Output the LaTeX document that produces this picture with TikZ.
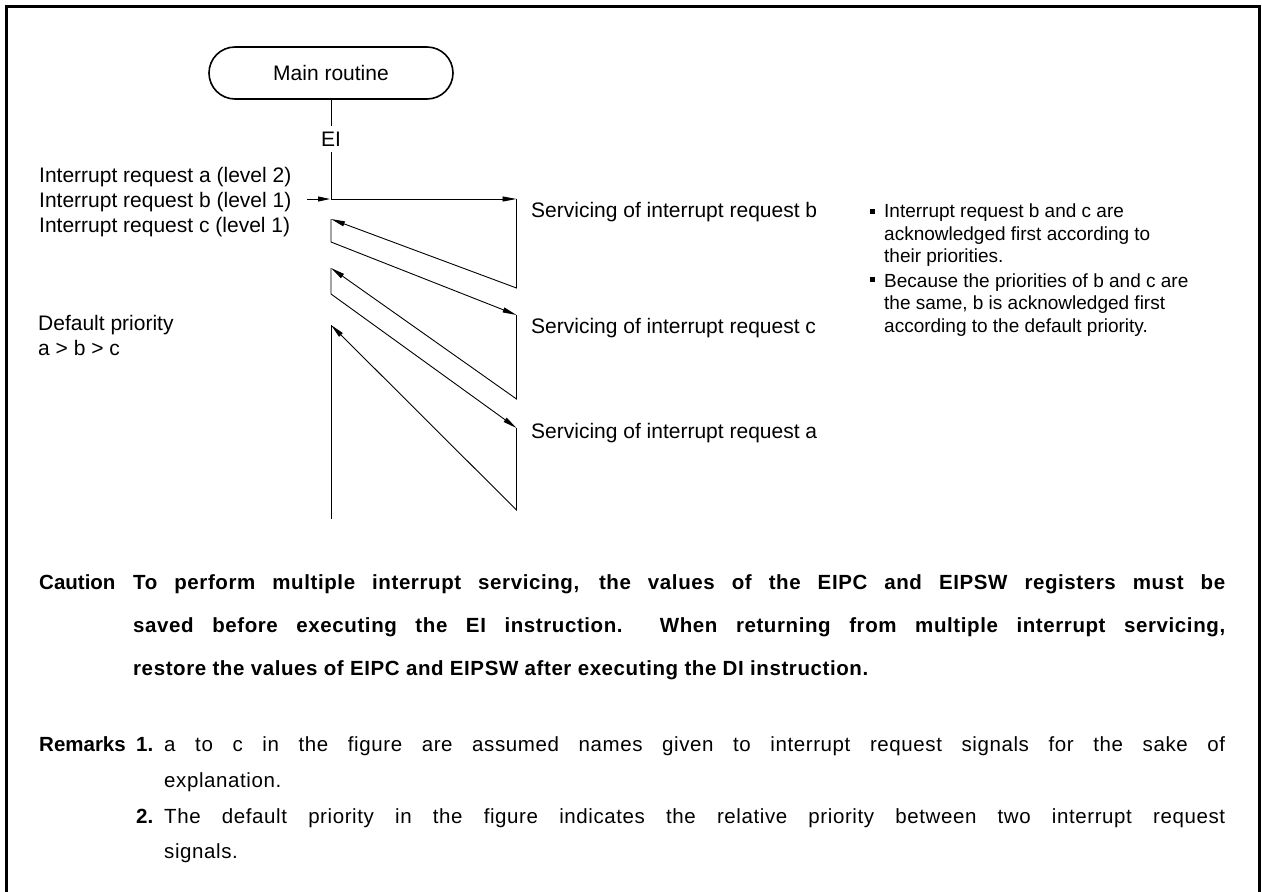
\documentclass[tikz,border=0pt]{standalone}
\usepackage{fontspec}
\setmainfont{Liberation Sans}
\newfontfamily\spfont{Liberation Sans}[LetterSpace=2.9]
\usetikzlibrary{arrows.meta}
\begin{document}
\begin{tikzpicture}[x=1pt,y=-1pt,
  lbl/.style={font=\fontsize{21}{25}\selectfont, inner sep=0pt, anchor=base west},
  note/.style={font=\fontsize{19}{23}\selectfont, inner sep=0pt, anchor=base west},
  headtxt/.style={font=\fontsize{20.5}{24}\selectfont\bfseries, inner sep=0pt, anchor=base west},
  boldtxt/.style={font=\spfont\fontsize{20.5}{24}\selectfont\bfseries, inner sep=0pt, anchor=base west},
  regtxt/.style={font=\spfont\fontsize{20.5}{24}\selectfont, inner sep=0pt, anchor=base west},
  flow/.style={line width=0.9pt},
  arr/.style={line width=0.9pt, -{Triangle[length=14pt,width=5pt]}},
  bul/.style={fill=black, inner sep=0pt, minimum size=5pt}
]
\useasboundingbox (0,0) rectangle (1262,892);
% frame
\draw[line width=2.8pt] (6.3,892) -- (6.3,6.3) -- (1259.6,6.3) -- (1259.6,892);

% main routine
\node[draw, line width=1.6pt, rounded corners=26pt, minimum width=244pt, minimum height=52pt,
      font=\fontsize{21}{25}\selectfont] (main) at (331,73) {Main routine};
\node[font=\fontsize{21}{25}\selectfont, inner sep=0pt, anchor=base] (ei) at (331,146) {EI};

% coordinates
\coordinate (c0) at (331,199);
\coordinate (r1) at (516.5,199);
\coordinate (r1b) at (516.5,288);
\coordinate (l1) at (331,219);
\coordinate (l1b) at (331,242);
\coordinate (r2) at (516.5,315);
\coordinate (r2b) at (516.5,399);
\coordinate (l2) at (331,268);
\coordinate (l2b) at (331,294);
\coordinate (r3) at (516.5,428);
\coordinate (r3b) at (516.5,510);
\coordinate (l3) at (331,325);
\coordinate (l3b) at (331,519);
\coordinate (in0) at (307,199);

\draw[flow] (main.south) -- ([yshift=5pt]ei.north);
\draw[flow] ([yshift=-6pt]ei.south) -- (c0);
\draw[arr] (c0) -- (r1);
\draw[arr] (r1) -- (r1b) -- (l1);
\draw[arr] (l1) -- (l1b) -- (r2);
\draw[arr] (r2) -- (r2b) -- (l2);
\draw[arr] (l2) -- (l2b) -- (r3);
\draw[arr] (r3) -- (r3b) -- (l3);
\draw[flow] (l3) -- (l3b);
\draw[line width=0.9pt, -{Triangle[length=12pt,width=5pt]}] (in0) -- ([xshift=-1pt]c0);

% left labels
\node[lbl] (ia) at (39,182) {Interrupt request a (level 2)};
\node[lbl] (ib) at (39,207) {Interrupt request b (level 1)};
\node[lbl] (ic) at (39,232) {Interrupt request c (level 1)};
\node[lbl] (dp) at (38,330) {Default priority};
\node[lbl] (dp2) at (38,355) {a > b > c};

% servicing labels
\node[lbl] (sb) at (531,217) {Servicing of interrupt request b};
\node[lbl] (sc) at (531,333) {Servicing of interrupt request c};
\node[lbl] (sa) at (531,438) {Servicing of interrupt request a};

% notes
\node[bul] (b1) at (872.5,211) {};
\node[bul] (b2) at (872.5,279) {};
\node[note] (n11) at (884,217) {Interrupt request b and c are};
\node[note] (n12) at (884,240) {acknowledged first according to};
\node[note] (n13) at (884,262.5) {their priorities.};
\node[note] (n21) at (884,287) {Because the priorities of b and c are};
\node[note] (n22) at (884,309.5) {the same, b is acknowledged first};
\node[note] (n23) at (884,332) {according to the default priority.};

% caution
\node[headtxt] (caut) at (39,589) {Caution};
\node[boldtxt] (ct1) at (133,589) {\makebox[1092pt][s]{To perform multiple interrupt servicing, the values of the EIPC and EIPSW registers must be}};
\node[boldtxt] (ct2) at (133,632) {\makebox[1092pt][s]{saved before executing the EI instruction.\ \ When returning from multiple interrupt servicing,}};
\node[boldtxt] (ct3) at (133,675) {restore the values of EIPC and EIPSW after executing the DI instruction.};

% remarks
\node[headtxt] (rem) at (39,751) {Remarks};
\node[headtxt] (r1n) at (136,751) {1.};
\node[regtxt] (r1t) at (164,751) {\makebox[1061pt][s]{a to c in the figure are assumed names given to interrupt request signals for the sake of}};
\node[regtxt] (r1t2) at (164,787) {explanation.};
\node[headtxt] (r2n) at (136,823) {2.};
\node[regtxt] (r2t) at (164,823) {\makebox[1061pt][s]{The default priority in the figure indicates the relative priority between two interrupt request}};
\node[regtxt] (r2t2) at (164,858) {signals.};
\end{tikzpicture}
\end{document}
